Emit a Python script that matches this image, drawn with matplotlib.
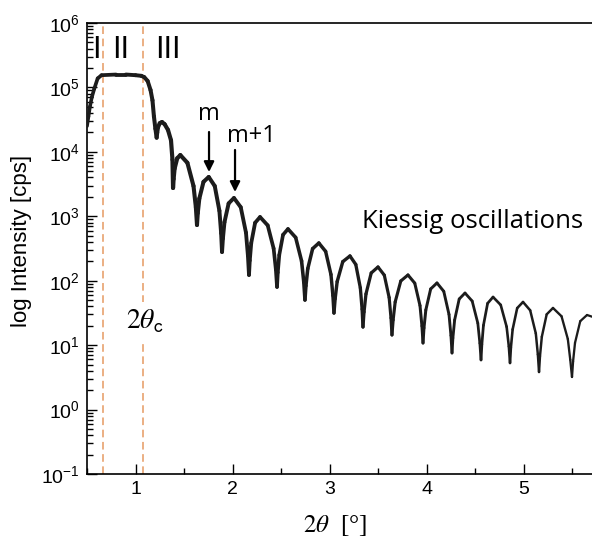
import matplotlib
matplotlib.use('Agg')
import matplotlib.pyplot as plt
import numpy as np
from matplotlib.collections import LineCollection
from matplotlib.ticker import LogLocator, MultipleLocator, NullFormatter

# reflectivity curve: 2theta [deg] and log10(counts)
two_theta = [
    0.500, 0.515, 0.530, 0.550, 0.575, 0.610, 0.650, 0.800, 0.900, 1.000, 1.060, 1.090,
    1.125, 1.155, 1.175, 1.190, 1.205, 1.218,
    1.224, 1.232, 1.250, 1.273, 1.300, 1.335, 1.366, 1.381, 1.387,
    1.393, 1.403, 1.430, 1.462, 1.535, 1.598, 1.622, 1.634,
    1.642, 1.658, 1.701, 1.755, 1.817, 1.865, 1.883, 1.892,
    1.901, 1.917, 1.960, 2.015, 2.085, 2.139, 2.159, 2.170,
    2.178, 2.193, 2.233, 2.284, 2.363, 2.424, 2.447, 2.459,
    2.467, 2.482, 2.521, 2.572, 2.651, 2.712, 2.735, 2.747,
    2.757, 2.776, 2.826, 2.890, 2.960, 3.015, 3.035, 3.046,
    3.058, 3.079, 3.137, 3.211, 3.271, 3.318, 3.336, 3.345,
    3.356, 3.376, 3.430, 3.500, 3.565, 3.615, 3.634, 3.644,
    3.656, 3.677, 3.735, 3.809, 3.879, 3.933, 3.953, 3.964,
    3.974, 3.993, 4.043, 4.108, 4.178, 4.232, 4.252, 4.263,
    4.272, 4.290, 4.337, 4.397, 4.471, 4.529, 4.550, 4.562,
    4.571, 4.587, 4.630, 4.686, 4.765, 4.826, 4.849, 4.861,
    4.870, 4.888, 4.935, 4.995, 5.069, 5.127, 5.148, 5.160,
    5.170, 5.189, 5.239, 5.304, 5.392, 5.457, 5.482, 5.500,
    5.511, 5.531, 5.585, 5.655, 5.710,
]
log_counts = [
    4.40, 4.55, 4.70, 4.85, 4.98, 5.14, 5.19, 5.20, 5.20, 5.19, 5.18, 5.16,
    5.10, 4.96, 4.80, 4.55, 4.36, 4.22,
    4.300, 4.380, 4.445, 4.463, 4.430, 4.340, 4.180, 3.880, 3.440,
    3.580, 3.740, 3.900, 3.950, 3.830, 3.470, 3.144, 2.865,
    3.050, 3.275, 3.535, 3.610, 3.470, 3.086, 2.737, 2.446,
    2.655, 2.907, 3.200, 3.284, 3.141, 2.746, 2.388, 2.089,
    2.314, 2.584, 2.899, 2.989, 2.859, 2.500, 2.174, 1.903,
    2.128, 2.398, 2.713, 2.803, 2.671, 2.307, 1.977, 1.701,
    1.922, 2.187, 2.497, 2.585, 2.455, 2.096, 1.771, 1.499,
    1.720, 1.986, 2.296, 2.384, 2.252, 1.888, 1.558, 1.282,
    1.515, 1.794, 2.120, 2.213, 2.086, 1.738, 1.422, 1.158,
    1.391, 1.670, 1.996, 2.089, 1.962, 1.614, 1.297, 1.033,
    1.266, 1.546, 1.872, 1.965, 1.835, 1.476, 1.150, 0.878,
    1.111, 1.390, 1.716, 1.809, 1.684, 1.341, 1.030, 0.770,
    1.014, 1.307, 1.649, 1.747, 1.624, 1.286, 0.979, 0.723,
    0.960, 1.244, 1.575, 1.670, 1.540, 1.181, 0.855, 0.583,
    0.831, 1.130, 1.478, 1.577, 1.448, 1.095, 0.774, 0.506,
    0.746, 1.035, 1.372, 1.468, 1.440,
]

region_x = [0.665, 1.077]          # dashed boundaries
region_labels = ['I', 'II', 'III']
region_label_x = [0.598, 0.845, 1.33]
peak_x = [1.758, 2.026]             # arrows m, m+1
peak_labels = ['m', 'm+1']

plt.rcParams['font.family'] = ['Liberation Sans', 'DejaVu Sans']
plt.rcParams['mathtext.fontset'] = 'custom'
plt.rcParams['mathtext.rm'] = 'Liberation Sans'
plt.rcParams['mathtext.default'] = 'regular'

fig = plt.figure(figsize=(5.92, 5.37), dpi=100)
ax = fig.add_axes([87/592, 1-474/537, 505/592, 451/537])
ax.set_yscale('log')
ax.set_xlim(0.5, 0.5 + 505/97)
ax.set_ylim(1e-1, 1e6)

x = np.array(two_theta)
y = 10**np.array(log_counts)
pts = np.column_stack([x, y])
segs = np.stack([pts[:-1], pts[1:]], axis=1)
mid = (x[:-1] + x[1:]) / 2
widths = np.interp(mid, [0.5, 1.4, 5.7], [2.6, 3.0, 1.6])
lc = LineCollection(segs, linewidths=widths, colors='#1c1c1c',
                    capstyle='round', joinstyle='round', zorder=3)
ax.add_collection(lc)

for xv in region_x:
    ax.axvline(xv, color='#e59a62', lw=1.1, ls=(0, (5, 3)), zorder=1)

for lab, xv in zip(region_labels, region_label_x):
    ax.text(xv, 10**5.457, lab, ha='center', va='baseline', fontsize=22)

# arrows m, m+1
ax.annotate('', xy=(peak_x[0], 10**3.687), xytext=(peak_x[0], 10**4.308),
            arrowprops=dict(arrowstyle='-|>', color='k', lw=1.6,
                            mutation_scale=15, shrinkA=0, shrinkB=0))
ax.annotate('', xy=(peak_x[1], 10**3.377), xytext=(peak_x[1], 10**4.029),
            arrowprops=dict(arrowstyle='-|>', color='k', lw=1.6,
                            mutation_scale=15, shrinkA=0, shrinkB=0))
ax.text(peak_x[0], 10**4.494, peak_labels[0], ha='center', va='baseline',
        fontsize=17, family='Open Sans')
ax.text(2.191, 10**4.153, peak_labels[1], ha='center', va='baseline',
        fontsize=17, family='Open Sans')

ax.text(3.335, 10**2.818, 'Kiessig oscillations', ha='left', va='baseline',
        fontsize=18.5, family='Open Sans')

ax.text(1.098, 10**1.375, r'$\mathit{2\theta}_{\mathsf{c}}$', ha='center',
        va='center', fontsize=20, math_fontfamily='stix',
        bbox=dict(facecolor='white', edgecolor='none', pad=4), zorder=2)

ax.xaxis.set_major_locator(MultipleLocator(1))
ax.xaxis.set_minor_locator(MultipleLocator(0.5))
ax.yaxis.set_major_locator(LogLocator(base=10, numticks=20))
ax.yaxis.set_minor_locator(LogLocator(base=10, subs=np.arange(2, 10), numticks=20))
ax.yaxis.set_minor_formatter(NullFormatter())
ax.tick_params(which='both', direction='in', top=False, right=False, width=1.0)
ax.tick_params(which='major', length=7, labelsize=14, pad=5)
ax.tick_params(which='minor', length=4)

ax.spines['right'].set_visible(False)
for s in ['left', 'bottom', 'top']:
    ax.spines[s].set_linewidth(1.2)

fig.text(22/592, 1-241/537, 'log Intensity [cps]', rotation=90,
         ha='center', va='center', fontsize=16)
fig.text(335/592, 1-513/537, r'$\mathit{2\theta}$  [°]', ha='center',
         va='top', fontsize=18, family='Liberation Serif', math_fontfamily='stix')

fig.savefig('out.png', dpi=100)
